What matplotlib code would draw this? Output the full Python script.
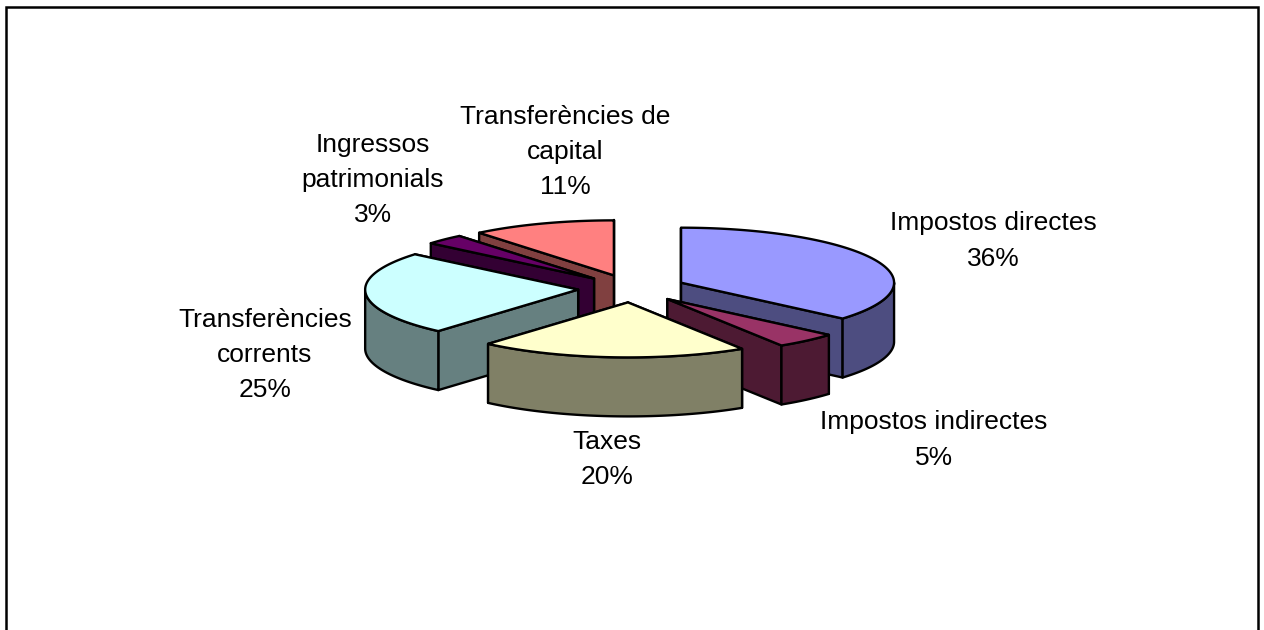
import numpy as np
import matplotlib
matplotlib.use("Agg")
import matplotlib.pyplot as plt
from matplotlib.patches import Polygon

# Data
names = ["Impostos directes", "Impostos indirectes", "Taxes", "Transferències corrents",
         "Ingressos patrimonials", "Transferències de capital"]
label_text = ["Impostos directes", "Impostos indirectes", "Taxes", "Transferències\ncorrents",
              "Ingressos\npatrimonials", "Transferències de\ncapital"]
values = [36.3, 4.7, 20.4, 24.7, 3.0, 10.9]

# Colours: top and side of every slice
top_colors = ["#9999FF", "#993366", "#FFFFCC", "#CCFFFF", "#660066", "#FF8080"]
side_colors = ["#4D4D80", "#4D1A33", "#808066", "#668080", "#330033", "#804040"]

# Pie geometry, in pixels of the picture
cx, cy = 632, 288.5
rx, ry = 213, 55
depth = 59
explode = 54
label_pos = [(993, 241), (934, 440), (607, 459.5), (265, 355), (373, 180), (565, 152)]

fig = plt.figure(figsize=(12.64, 6.30), dpi=100)
ax = fig.add_axes([0, 0, 1, 1])
ax.set_xlim(0, 1264)
ax.set_ylim(630, 0)
ax.axis("off")

# Frame, open at the bottom because the picture cuts it off
ax.plot([6, 6, 1258, 1258], [640, 6.5, 6.5, 640], color="black", lw=1.8, solid_joinstyle="miter")


def rim(a, x0, y0):
    return x0 + rx * np.sin(a), y0 - ry * np.cos(a)


def face(pts, color, z):
    ax.add_patch(Polygon(pts, closed=True, facecolor=color, edgecolor="black", lw=1.7,
                         joinstyle="round", zorder=z))


edges = np.radians(np.concatenate([[0], np.cumsum(values)]) * 3.6)
mids = (edges[:-1] + edges[1:]) / 2
apex = [(cx + explode * np.sin(m), cy - explode * ry / rx * np.cos(m)) for m in mids]

# Paint from the back of the pie to the front
order = np.argsort([a[1] + ry * np.cos(np.pi - m) * 0.5 for a, m in zip(apex, mids)])
for n, i in enumerate(order):
    x0, y0 = apex[i]
    a0, a1 = edges[i], edges[i + 1]
    z = 2 + n
    # Cut faces first, rear one before front one; the wall and the top go over them
    for a in sorted((a0, a1), key=lambda e: rim(e, x0, y0)[1]):
        px, py = rim(a, x0, y0)
        face([(x0, y0), (px, py), (px, py + depth), (x0, y0 + depth)], side_colors[i], z)
    # Outer wall, only the part that faces the viewer
    lo, hi = max(a0, np.pi / 2), min(a1, 3 * np.pi / 2)
    if hi > lo:
        t = np.linspace(lo, hi, 80)
        xs, ys = rim(t, x0, y0)
        wall = list(zip(xs, ys)) + list(zip(xs[::-1], ys[::-1] + depth))
        face(wall, side_colors[i], z)
    t = np.linspace(a0, a1, 120)
    xs, ys = rim(t, x0, y0)
    face([(x0, y0)] + list(zip(xs, ys)), top_colors[i], z)

for txt, v, (lx, ly) in zip(label_text, values, label_pos):
    ax.text(lx, ly, f"{txt}\n{v:.0f}%", ha="center", va="center", multialignment="center",
            fontsize=19, family="Liberation Sans", color="black", linespacing=1.6, zorder=20)

fig.savefig("out.png", dpi=100, facecolor="white")
